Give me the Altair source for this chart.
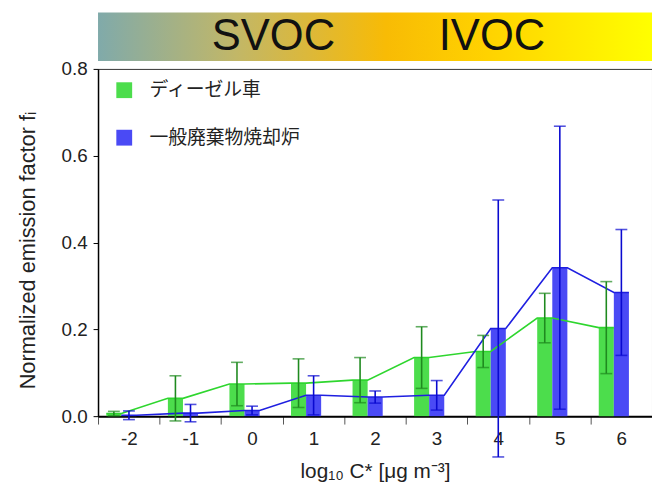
import altair as alt
import pandas as pd

# ---- data ----
bins = [-2, -1, 0, 1, 2, 3, 4, 5, 6]
series = ["ディーゼル車", "一般廃棄物焼却炉"]
diesel = [0.006, 0.041, 0.074, 0.076, 0.083, 0.135, 0.149, 0.226, 0.204]
diesel_err = [0.005, 0.052, 0.050, 0.056, 0.052, 0.071, 0.037, 0.057, 0.106]
incin = [0.002, 0.007, 0.013, 0.048, 0.044, 0.048, 0.202, 0.342, 0.285]
incin_err = [0.010, 0.020, 0.010, 0.045, 0.014, 0.034, 0.296, 0.326, 0.145]
banner_labels = ["SVOC", "IVOC"]
banner_label_pos = [0.35, 3.90]

# ---- styles / layout ----
bar_colors = ["#4cdd4c", "#4a4af5"]
line_colors = ["#2ed62e", "#1f1fe0"]
err_colors = ["#1f8a1f", "#0a0ad0"]
offsets = [(-0.365, -0.12), (-0.12, 0.125)]
FONT = "Liberation Sans"
W, H = 560, 351
BANNER_Y = (0.818, 0.930)   # banner band above the plot, in y-axis units
BANNER_X = (-2.5, 6.5)

rows, lrows = [], []
for s, vals, errs, (o1, o2) in zip(series, [diesel, incin], [diesel_err, incin_err], offsets):
    for c, v, e in zip(bins, vals, errs):
        rows.append(dict(series=s, c=c, v=v, lo=v - e, hi=v + e,
                         x1=c + o1, x2=c + o2, xm=c + (o1 + o2) / 2))
        lrows.append(dict(series=s, x=c + o1, v=v))
        lrows.append(dict(series=s, x=c + o2, v=v))
df = pd.DataFrame(rows)
ldf = pd.DataFrame(lrows)

xs = alt.Scale(domain=[-2.5, 6.5], nice=False, zero=False)
ys = alt.Scale(domain=[0, 0.8], nice=False, zero=False)

xaxis = alt.Axis(
    values=[b - 0.5 for b in bins],
    labelExpr="'' + (datum.value + 0.5)",
    labelOffset=W / 9 / 2, labelFlush=False, labelOverlap=False,
    tickSize=8, tickColor="#555", domainColor="#000", domainWidth=2,
    labelFontSize=19, labelColor="#222", labelPadding=6, labelFont=FONT,
    titleFontSize=21, titleColor="#222", titleFontWeight="normal", titleFont=FONT,
    titlePadding=12, grid=False,
)
yaxis = alt.Axis(
    values=[0, 0.2, 0.4, 0.6, 0.8], format=".1f",
    tickSize=5, tickColor="#000", domainColor="#000", domainWidth=1.5,
    labelFontSize=19, labelColor="#222", labelPadding=6, labelFont=FONT,
    titleFontSize=22, titleColor="#222", titleFontWeight="normal", titleFont=FONT,
    titlePadding=22, titleY=183, grid=False,
)

grad = alt.Gradient(
    gradient="linear",
    stops=[
        alt.GradientStop(color="#80aaaa", offset=0.0),
        alt.GradientStop(color="#c2b767", offset=0.25),
        alt.GradientStop(color="#dcb83a", offset=0.38),
        alt.GradientStop(color="#f8bb05", offset=0.52),
        alt.GradientStop(color="#ffd200", offset=0.70),
        alt.GradientStop(color="#ffff00", offset=1.0),
    ],
    x1=0, x2=1, y1=0, y2=0,
)
band_df = pd.DataFrame({"x1": [BANNER_X[0]], "x2": [BANNER_X[1]],
                        "y1": [BANNER_Y[0]], "y2": [BANNER_Y[1]]})
text_df = pd.DataFrame({"label": banner_labels, "pos": banner_label_pos,
                        "y": [sum(BANNER_Y) / 2] * 2})

banner = alt.Chart(band_df).mark_rect(color=grad).encode(
    x=alt.X("x1:Q", scale=xs), x2="x2:Q",
    y=alt.Y("y1:Q", scale=ys), y2="y2:Q")
banner_text = alt.Chart(text_df).mark_text(fontSize=44, font=FONT, color="#111").encode(
    x=alt.X("pos:Q", scale=xs), y=alt.Y("y:Q", scale=ys), text="label:N")

bars = alt.Chart(df).mark_rect().encode(
    x=alt.X("x1:Q", scale=xs, axis=xaxis, title="log₁₀ C* [μg m⁻³]"),
    x2="x2:Q",
    y=alt.Y("v:Q", scale=ys, axis=yaxis, title="Normalized emission factor fᵢ"),
    y2=alt.datum(0),
    color=alt.Color(
        "series:N",
        scale=alt.Scale(domain=series, range=bar_colors),
        legend=alt.Legend(
            title=None, orient="none", legendX=17, legendY=12,
            symbolType="square", symbolSize=256, symbolStrokeWidth=0,
            symbolOpacity=1, labelFontSize=19, labelFont="Noto Sans CJK JP",
            labelColor="#222", labelOffset=16, rowPadding=28, padding=0,
        ),
    ),
)

layers = [bars]
for s, lc in zip(series, line_colors):
    layers.append(
        alt.Chart(ldf).transform_filter(alt.FieldEqualPredicate(field="series", equal=s))
        .mark_line(color=lc, strokeWidth=1.6)
        .encode(x=alt.X("x:Q", scale=xs), y=alt.Y("v:Q", scale=ys), order="x:Q")
    )
for s, ec in zip(series, err_colors):
    base = alt.Chart(df).transform_filter(alt.FieldEqualPredicate(field="series", equal=s))
    layers.append(base.mark_rule(color=ec, strokeWidth=1.6).encode(
        x=alt.X("xm:Q", scale=xs), y=alt.Y("lo:Q", scale=ys), y2="hi:Q"))
    for f in ["lo", "hi"]:
        layers.append(base.mark_tick(orient="horizontal", size=12, thickness=1.6, color=ec).encode(
            x=alt.X("xm:Q", scale=xs), y=alt.Y(f + ":Q", scale=ys)))
layers += [banner, banner_text]

chart = alt.layer(*layers).properties(
    width=W, height=H,
    padding={"left": 8, "top": 1, "right": 0, "bottom": 0},
).configure(background="white").configure_view(stroke="#333", strokeWidth=1)

chart.save("out.html", embed_options={"renderer": "svg", "actions": False})
